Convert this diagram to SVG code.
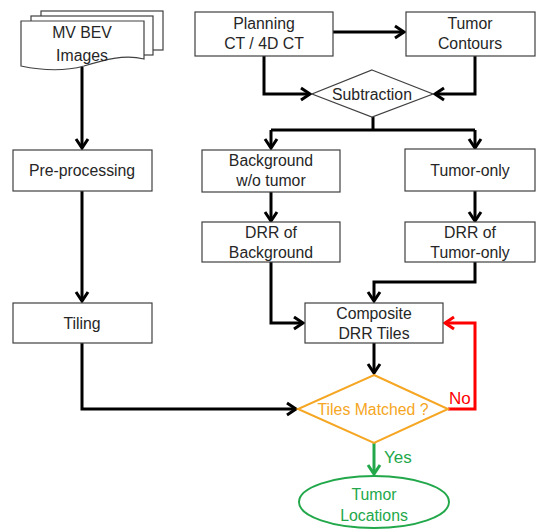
<svg xmlns="http://www.w3.org/2000/svg" width="536" height="531" viewBox="0 0 536 531">
<style>
.box{fill:#fff;stroke:#404040;stroke-width:1.2}
.t{font-family:"Liberation Sans",Arial,sans-serif;font-size:15.8px;fill:#262626;text-anchor:middle}
.c{fill:none;stroke:#000;stroke-width:3}
</style>
<defs>
<marker id="ab" markerUnits="userSpaceOnUse" markerWidth="16" markerHeight="16" refX="12" refY="8" orient="auto"><path d="M3,2 L12,8 L3,14" fill="none" stroke="#000" stroke-width="3"/></marker>
<marker id="ar" markerUnits="userSpaceOnUse" markerWidth="16" markerHeight="16" refX="12" refY="8" orient="auto"><path d="M3,2 L12,8 L3,14" fill="none" stroke="#f00" stroke-width="3"/></marker>
<marker id="ag" markerUnits="userSpaceOnUse" markerWidth="16" markerHeight="16" refX="12" refY="8" orient="auto"><path d="M3,2 L12,8 L3,14" fill="none" stroke="#22a84a" stroke-width="3"/></marker>
</defs>
<g id="connectors">
<path class="c" d="M82,67 V148" marker-end="url(#ab)"/>
<path class="c" d="M82,191 V301" marker-end="url(#ab)"/>
<path class="c" d="M82,343 V409 H296" marker-end="url(#ab)"/>
<path class="c" d="M333,32 H404" marker-end="url(#ab)"/>
<path class="c" d="M264,56 V94 H310" marker-end="url(#ab)"/>
<path class="c" d="M475,56 V94 H435" marker-end="url(#ab)"/>
<path class="c" d="M373,117 V130"/>
<path class="c" d="M271,130 H475"/>
<path class="c" d="M271,130 V148" marker-end="url(#ab)"/>
<path class="c" d="M475,130 V148" marker-end="url(#ab)"/>
<path class="c" d="M271,192 V221" marker-end="url(#ab)"/>
<path class="c" d="M475,191 V221" marker-end="url(#ab)"/>
<path class="c" d="M271,262 V323 H303" marker-end="url(#ab)"/>
<path class="c" d="M475,262 V282 H374 V301" marker-end="url(#ab)"/>
<path class="c" d="M374,343 V373" marker-end="url(#ab)"/>
<path d="M448,409 H475 V323 H445" fill="none" stroke="#f00" stroke-width="3" marker-end="url(#ar)"/>
<path d="M374,443 V474" fill="none" stroke="#22a84a" stroke-width="3" marker-end="url(#ag)"/>
<text x="449" y="404" style="font-family:'Liberation Sans',Arial,sans-serif;font-size:17px;fill:#f00">No</text>
<text x="384" y="463" style="font-family:'Liberation Sans',Arial,sans-serif;font-size:17px;fill:#22a84a">Yes</text>
</g>
<g id="mv-bev">
<rect class="box" x="41" y="11" width="122" height="39"/>
<rect class="box" x="31" y="16" width="122" height="39"/>
<path class="box" d="M21,21 H144 V59 C124,54 104,60 84,66 C62,72 40,70 21,66 Z"/>
<text class="t" x="82" y="38">MV BEV</text>
<text class="t" x="82" y="61">Images</text>
</g>
<g id="preproc">
<rect class="box" x="13" y="150" width="139" height="41"/>
<text class="t" x="82" y="176">Pre-processing</text>
</g>
<g id="tiling">
<rect class="box" x="13" y="303" width="139" height="40"/>
<text class="t" x="82" y="329">Tiling</text>
</g>
<g id="planning">
<rect class="box" x="195" y="12" width="138" height="44"/>
<text class="t" x="264" y="29">Planning</text>
<text class="t" x="264" y="49">CT /  4D CT</text>
</g>
<g id="contours">
<rect class="box" x="406" y="12" width="129" height="44"/>
<text class="t" x="470" y="29">Tumor</text>
<text class="t" x="470" y="49">Contours</text>
</g>
<g id="subtraction">
<path class="box" d="M372,70 L433,94 L372,117 L312,94 Z"/>
<text class="t" x="372" y="100">Subtraction</text>
</g>
<g id="background">
<rect class="box" x="202" y="150" width="138" height="42"/>
<text class="t" x="271" y="166">Background</text>
<text class="t" x="271" y="186">w/o tumor</text>
</g>
<g id="tumoronly">
<rect class="box" x="405" y="149" width="130" height="42"/>
<text class="t" x="470" y="176">Tumor-only</text>
</g>
<g id="drr-bg">
<rect class="box" x="202" y="222" width="138" height="40"/>
<text class="t" x="271" y="238">DRR of</text>
<text class="t" x="271" y="258">Background</text>
</g>
<g id="drr-tumor">
<rect class="box" x="405" y="222" width="130" height="40"/>
<text class="t" x="470" y="238">DRR of</text>
<text class="t" x="470" y="258">Tumor-only</text>
</g>
<g id="composite">
<rect class="box" x="305" y="303" width="138" height="40"/>
<text class="t" x="374" y="319">Composite</text>
<text class="t" x="374" y="339">DRR Tiles</text>
</g>
<g id="matched">
<path d="M374,375 L448,409 L374,443 L298,409 Z" fill="#fff" stroke="#f5a623" stroke-width="2"/>
<text class="t" x="373" y="415" style="fill:#f5a623">Tiles Matched ?</text>
</g>
<g id="locations">
<ellipse cx="374" cy="502" rx="75" ry="26" fill="#fff" stroke="#22a84a" stroke-width="2"/>
<text class="t" x="374" y="500" style="fill:#22a84a">Tumor</text>
<text class="t" x="374" y="521" style="fill:#22a84a">Locations</text>
</g>
</svg>
